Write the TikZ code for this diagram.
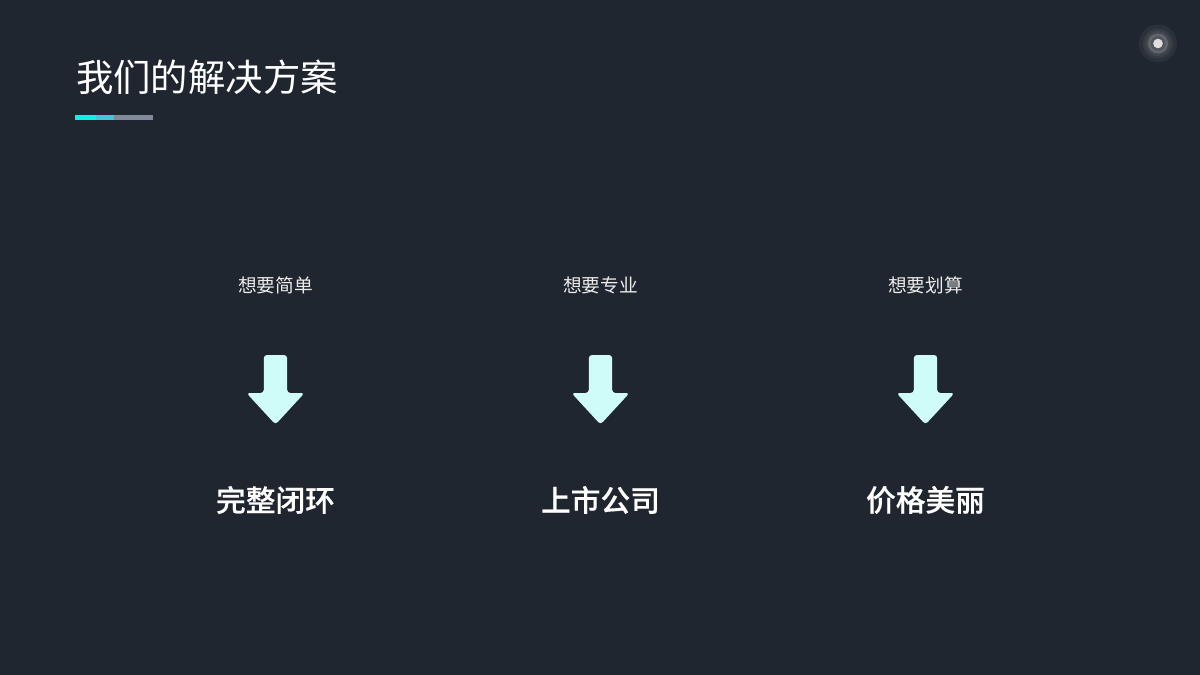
\documentclass[tikz,border=0pt]{standalone}
\usepackage{fontspec}
\newfontfamily\cjk{Noto Sans CJK SC}
\newfontfamily\cjkm[FakeBold=0.4]{Noto Sans CJK SC Medium}
\definecolor{bgc}{HTML}{20262F}
\definecolor{arrowc}{HTML}{CFFCF9}
\definecolor{barcyan}{HTML}{12EDE6}
\definecolor{barblue}{HTML}{45C4DC}
\definecolor{bargray}{HTML}{808A9A}
\tikzset{
  titletext/.style={text=white,anchor=center,inner sep=0pt,font=\cjk\fontsize{37.4}{37.4}\selectfont},
  asktext/.style={text=white!92!black,anchor=center,inner sep=0pt,font=\cjk\fontsize{18.7}{18.7}\selectfont},
  answertext/.style={text=white,anchor=center,inner sep=0pt,font=\cjkm\fontsize{29.7}{29.7}\selectfont},
  downarrow/.pic={\fill[arrowc,rounded corners=3.2pt]
     (-11.7,-39.5) -- (11.7,-39.5) -- (11.7,-1.5) -- (29,-1.5) -- (0,30) -- (-29,-1.5) -- (-11.7,-1.5) -- cycle;}
}
\begin{document}
\begin{tikzpicture}[x=1pt,y=-1pt]
\fill[bgc] (0,0) rectangle (1200,675);
\useasboundingbox (0,0) rectangle (1200,675);
% title
\node[titletext] (title) at (207,77) {我们的解决方案};
\fill[bargray] (75,115) rectangle (152.5,120);
\fill[barblue] (96,115) rectangle (114,120);
\fill[barcyan] (75,115) rectangle (96,120);
% target mark
\fill[white!5!bgc] (1158,43.5) circle (19);
\fill[white!10!bgc] (1158,43.5) circle (15);
\fill[white!15!bgc] (1158,43.5) circle (12.5);
\fill[white!30!bgc] (1158,43.5) circle (10);
\fill[white!22!bgc] (1158,43.5) circle (7.5);
\fill[white!85!bgc] (1158,43.5) circle (4.8);
% columns
\node[asktext] (a1) at (275.5,285) {想要简单};
\node[asktext] (a2) at (600.5,285) {想要专业};
\node[asktext] (a3) at (925.5,285) {想要划算};
\pic at (275.5,394.5) {downarrow};
\pic at (600.5,394.5) {downarrow};
\pic at (925.5,394.5) {downarrow};
\node[answertext] (b1) at (275.5,500) {完整闭环};
\node[answertext] (b2) at (600.5,500) {上市公司};
\node[answertext] (b3) at (925.5,500) {价格美丽};
\end{tikzpicture}
\end{document}
